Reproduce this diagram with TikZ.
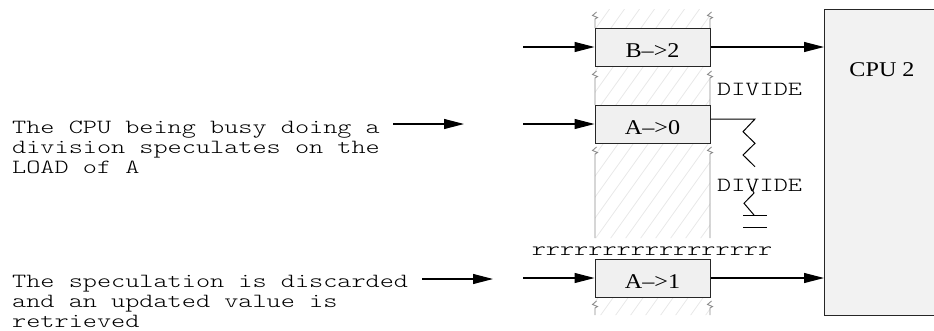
\documentclass[tikz,border=0pt]{standalone}
\usepackage{fontspec}
\setmainfont{Liberation Serif}
\newfontfamily\boxfont{Liberation Serif}[FakeStretch=1.15]
\newfontfamily\monofont{lmmonolt10-regular}[Extension=.otf, FakeStretch=1.34]
\usetikzlibrary{arrows.meta}
\newcommand\colzig[3]{\draw[colline] (#1+1.5,#2) -- (#1-2.5,#2+3.5) -- (#1+2.5,#2+5.5) -- (#1,#2+7) -- (#1,#3);}
\tikzset{
  arr/.style={-{Triangle[length=20pt,width=10pt]}, line width=1.1pt},
  regbox/.style={draw=black!85, fill=black!6, line width=1pt, minimum width=115pt,
    minimum height=38pt, inner sep=0pt, font=\boxfont\fontsize{21}{21}\selectfont,
    text height=20pt, text depth=0pt},
  cpubox/.style={draw=black!85, fill=black!5, line width=1pt, inner sep=0pt},
  boxtext/.style={font=\boxfont\fontsize{21}{21}\selectfont, inner sep=0pt},
  mono/.style={font=\monofont\fontsize{20.1}{20}\selectfont, inner sep=0pt},
  colline/.style={draw=black!45, line width=0.9pt},
  hatch/.style={draw=black!9, line width=0.8pt},
  wire/.style={draw=black, line width=1pt},
}
\begin{document}
\begin{tikzpicture}[x=1pt,y=-1pt]
\useasboundingbox (0,0) rectangle (934,330);
% hatched column
\begin{scope}
  \clip (595,9) rectangle (710,238) (595,259) rectangle (710,315);
  \foreach \x in {350,365,...,720} { \draw[hatch] (\x,330) -- (\x+236,0); }
\end{scope}
\colzig{595}{12}{28}
\colzig{710}{12}{28}
\colzig{595}{71}{105}
\colzig{710}{71}{105}
\colzig{595}{147}{238}
\colzig{710}{147}{238}
\colzig{595}{301}{315}
\colzig{710}{301}{315}
% registers
\node[regbox] (b2) at (652.5,47) {B–>2};
\node[regbox] (a0) at (652.5,124) {A–>0};
\node[regbox] (a1) at (652.5,278) {A–>1};
\node[mono, anchor=base] (rr) at (652,255) {rrrrrrrrrrrrrrrrr};
% CPU
\node[cpubox, anchor=north west, minimum width=118pt, minimum height=306pt] (cpu) at (824,9) {};
\node[boxtext, anchor=base] (cpul) at (882,76) {CPU 2};
% incoming arrows
\coordinate (ib2) at (523,47);
\coordinate (ia0) at (523,124);
\coordinate (ia1) at (523,278);
\draw[arr] (ib2) -- (b2.west);
\draw[arr] (ia0) -- (a0.west);
\draw[arr] (ia1) -- (a1.west);
\draw[arr] (b2.east) -- (b2.east -| cpu.west);
\draw[arr] (a1.east) -- (a1.east -| cpu.west);
% texts on the left (base = last line)
\node[mono, align=left, anchor=base west] (t1) at (12,173)
  {The CPU being busy doing a\\division speculates on the\\LOAD of A};
\node[mono, align=left, anchor=base west] (t2) at (12,327)
  {The speculation is discarded\\and an updated value is\\retrieved};
\coordinate (s1) at (393,124);
\coordinate (e1) at (464,124);
\coordinate (s2) at (422,279);
\coordinate (e2) at (493,279);
\draw[arr] (s1) -- (e1);
\draw[arr] (s2) -- (e2);
% divide
\node[mono, anchor=base west] (d1) at (717,95) {DIVIDE};
\node[mono, anchor=base west] (d2) at (717,191) {DIVIDE};
\draw[wire] ([yshift=5pt]a0.east) -- (755,119) -- (743,131.7) -- (755,143.3) -- (743,155) -- (755,166.7);
\draw[wire] (750,186) -- (754,193) -- (744,203.3) -- (754,215);
\coordinate (g1) at (743,215);
\coordinate (g2) at (767,215);
\coordinate (g3) at (743,227);
\coordinate (g4) at (767,227);
\draw[wire] (g1) -- (g2);
\draw[wire] (g3) -- (g4);
\end{tikzpicture}
\end{document}
